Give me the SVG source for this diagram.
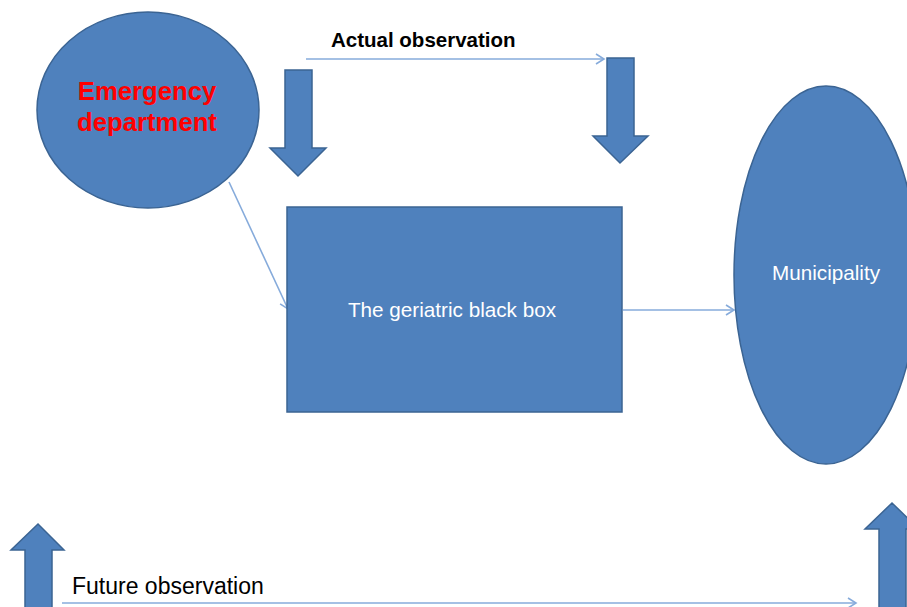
<svg xmlns="http://www.w3.org/2000/svg" width="907" height="607" viewBox="0 0 907 607">
<defs>
<style>
.shape{fill:#4F81BD;stroke:#3B6493;stroke-width:1.5}
.conn{stroke:#86ABDB;stroke-width:1.6;fill:none;marker-end:url(#open)}
.wt{font-family:"Liberation Sans",Arial,sans-serif;fill:#fff;font-size:20.7px;text-anchor:middle}
</style>
<marker id="open" markerWidth="12" markerHeight="12" refX="10" refY="6" orient="auto" markerUnits="userSpaceOnUse">
<path d="M2,1 L10,6 L2,11" fill="none" stroke="#86ABDB" stroke-width="1.6"/>
</marker>
</defs>
<rect width="907" height="607" fill="#fff"/>
<g id="connectors">
<line class="conn" x1="306" y1="59" x2="604" y2="59"/>
<line class="conn" x1="229" y1="182" x2="288" y2="309"/>
<line class="conn" x1="623" y1="310" x2="734" y2="310"/>
<line class="conn" x1="62" y1="603" x2="856" y2="603"/>
</g>
<g id="emergency">
<ellipse class="shape" cx="148" cy="110" rx="111" ry="98"/>
<text font-family="Liberation Sans,Arial,sans-serif" font-weight="bold" font-size="25.7" fill="#FF0000" text-anchor="middle"><tspan x="147" y="100">Emergency</tspan><tspan x="147" y="131">department</tspan></text>
</g>
<g id="arrow-down-left">
<polygon class="shape" points="285,70 312,70 312,148 326,148 298,176 270,148 285,148"/>
</g>
<g id="actual-label">
<text x="331" y="47" font-family="Liberation Sans,Arial,sans-serif" font-weight="bold" font-size="20.5" fill="#000">Actual observation</text>
</g>
<g id="arrow-down-right">
<polygon class="shape" points="607,58 634,58 634,136 648,136 620,163 593,136 607,136"/>
</g>
<g id="blackbox">
<rect class="shape" x="287" y="207" width="335" height="205"/>
<text class="wt" x="452" y="317">The geriatric black box</text>
</g>
<g id="municipality">
<ellipse class="shape" cx="826" cy="275" rx="92" ry="189"/>
<text class="wt" x="826" y="280">Municipality</text>
</g>
<g id="arrow-up-left">
<polygon class="shape" points="25,608 25,550 11,550 38,524 64,550 52,550 52,608"/>
</g>
<g id="future-label">
<text x="72" y="594" font-family="Liberation Sans,Arial,sans-serif" font-size="23" fill="#000">Future observation</text>
</g>
<g id="arrow-up-right">
<polygon class="shape" points="879,608 879,529 865,529 892,503 919,529 906,529 906,608"/>
</g>
</svg>
